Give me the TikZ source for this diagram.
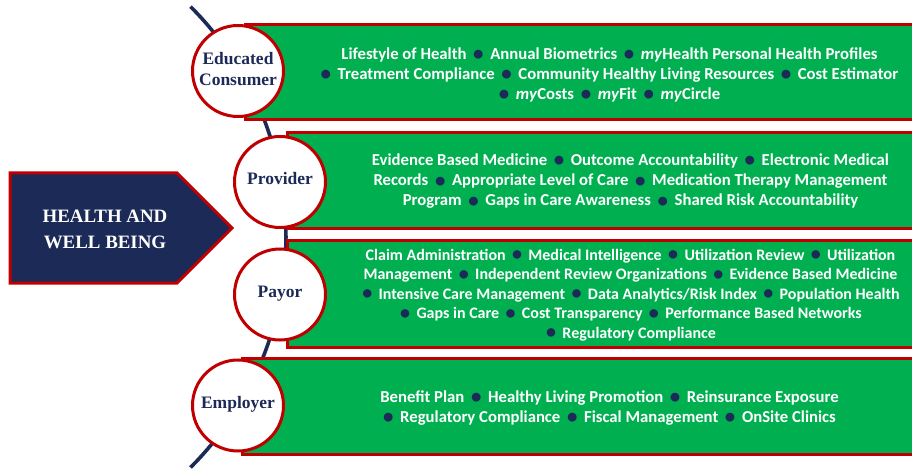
\documentclass[tikz,border=0pt]{standalone}
\usepackage{fontspec}
\usepackage{graphicx}
\setmainfont{Liberation Serif}
\newfontfamily\bodyfont{Carlito}
\definecolor{navy}{HTML}{1C2A57}
\definecolor{leaf}{HTML}{00B050}
\definecolor{brick}{HTML}{C00000}
\newcommand\dotmark{{\color{navy}\raisebox{-0.06em}{\scalebox{1.25}{\textbullet}}}}
\newcommand\bul{\hspace{0.4em}\dotmark\hspace{0.4em}}
\newcommand\lead{\dotmark\hspace{0.4em}}
\newcommand\my{\textit{my}}
\tikzset{
  band/.style={fill=leaf, draw=brick, line width=3pt},
  disc/.style={circle, fill=white, draw=brick, line width=3pt, minimum size=91pt, inner sep=0pt},
  role/.style={font=\fontsize{17.5}{21}\selectfont\bfseries, text=navy, anchor=base, inner sep=0pt},
  item/.style={font=\bodyfont\fontsize{16.7}{20}\selectfont\bfseries, text=white, anchor=base, inner sep=0pt},
  smallitem/.style={item, font=\bodyfont\fontsize{16}{19.5}\selectfont\bfseries},
  headline/.style={font=\fontsize{18.9}{25}\selectfont\bfseries, text=white, anchor=base, inner sep=0pt},
  spine/.style={draw=navy, line width=3.6pt},
}
\begin{document}
\begin{tikzpicture}[x=1pt,y=-1pt]
\clip (0,0) rectangle (912,470);

% curved spine running behind the four circles
\draw[spine] (190.5,6.6) arc[start angle=-45, end angle=45, radius=325.9];

% green bands
\draw[band] (245,25) rectangle (930,120);
\draw[band] (287,133) rectangle (930,229);
\draw[band] (287,241) rectangle (930,347);
\draw[band] (242,358) rectangle (930,454);

% arrow-shaped title block
\draw[fill=navy, draw=brick, line width=3pt]
  (10,173) -- (177,173) -- (232,228) -- (177,283) -- (10,283) -- cycle;
\node[headline] (t1) at (105,223) {HEALTH AND};
\node[headline] (t2) at (105,248) {WELL BEING};

% stakeholder circles
\node[disc] (c1) at (238,71) {};
\node[disc] (c2) at (280,182) {};
\node[disc] (c3) at (280,294.5) {};
\node[disc] (c4) at (238,405.5) {};
\node[role] (r1a) at (238,65) {Educated};
\node[role] (r1b) at (238,86) {Consumer};
\node[role] (r2) at (280,185) {Provider};
\node[role] (r3) at (280,297) {Payor};
\node[role] (r4) at (238,408) {Employer};

% band texts
\node[item] (a1) at (609.5,59.3) {Lifestyle of Health\bul Annual Biometrics\bul\my Health Personal Health Profiles};
\node[item] (a2) at (609.5,79.3) {\lead Treatment Compliance\bul Community Healthy Living Resources\bul Cost Estimator};
\node[item] (a3) at (609.5,99.3) {\lead\my Costs\bul\my Fit\bul\my Circle};

\node[item] (b1) at (630.5,166) {Evidence Based Medicine\bul Outcome Accountability\bul Electronic Medical};
\node[item] (b2) at (630.5,186) {Records\bul Appropriate Level of Care\bul Medication Therapy Management};
\node[item] (b3) at (630.5,206) {Program\bul Gaps in Care Awareness\bul Shared Risk Accountability};

\node[smallitem] (p1) at (630.5,260) {Claim Administration\bul Medical Intelligence\bul Utilization Review\bul Utilization};
\node[smallitem] (p2) at (630.5,279.5) {Management\bul Independent Review Organizations\bul Evidence Based Medicine};
\node[smallitem] (p3) at (631,299) {\lead Intensive Care Management\bul Data Analytics/Risk Index\bul Population Health};
\node[smallitem] (p4) at (631,318.5) {\lead Gaps in Care\bul Cost Transparency\bul Performance Based Networks};
\node[smallitem] (p5) at (631,338) {\lead Regulatory Compliance};

\node[item] (e1) at (609.5,402) {Benefit Plan\bul Healthy Living Promotion\bul Reinsurance Exposure};
\node[item] (e2) at (609.5,422) {\lead Regulatory Compliance\bul Fiscal Management\bul OnSite Clinics};
\end{tikzpicture}
\end{document}
